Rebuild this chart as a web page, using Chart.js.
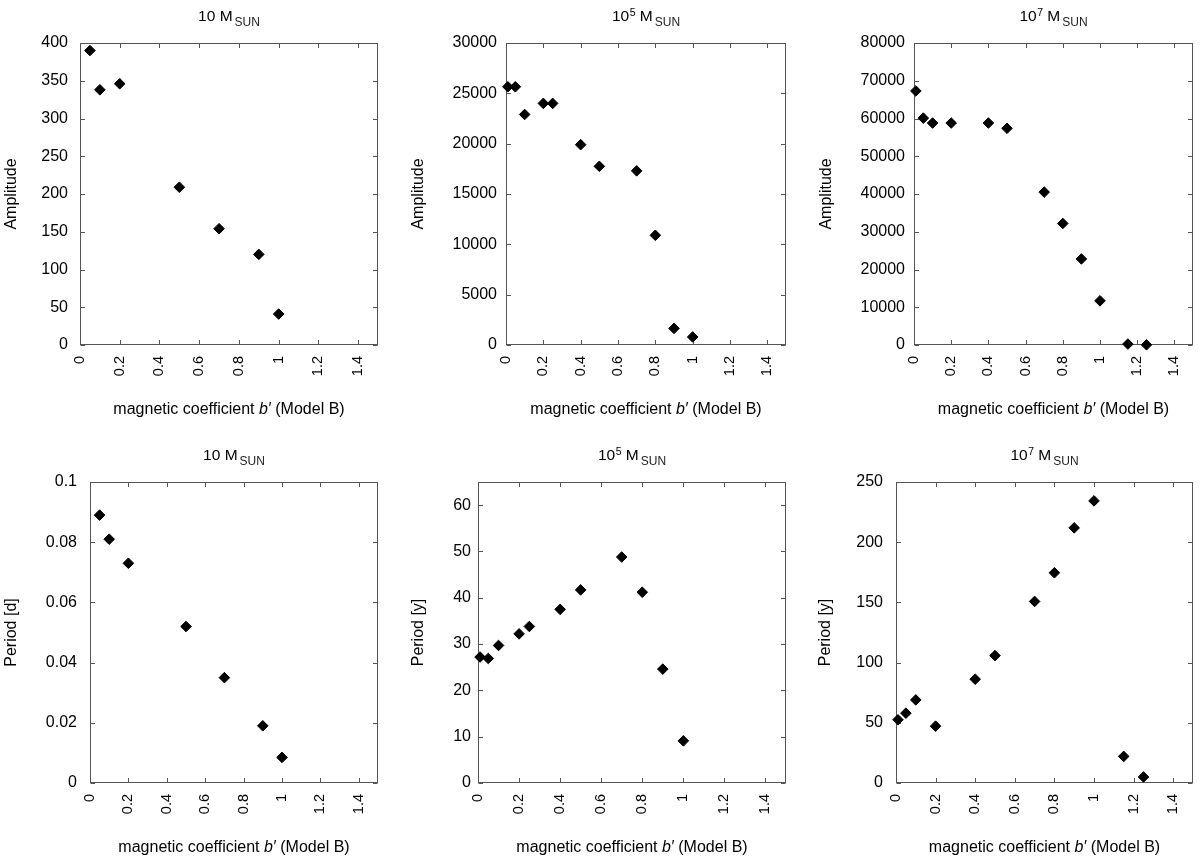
<!DOCTYPE html>
<html><head><meta charset="utf-8">
<script src="https://cdn.jsdelivr.net/npm/chart.js@4.4.1/dist/chart.umd.min.js"></script>
<style>
html,body{margin:0;padding:0;background:#fff;width:1200px;height:863px;overflow:hidden;position:relative}
canvas{position:absolute}
</style></head><body>
<canvas id="c0"></canvas><canvas id="c1"></canvas><canvas id="c2"></canvas>
<canvas id="c3"></canvas><canvas id="c4"></canvas><canvas id="c5"></canvas>
<script>
// ---- data ----
const xTicks = [0, 0.2, 0.4, 0.6, 0.8, 1, 1.2, 1.4];

const b10 = [0.05, 0.1, 0.2, 0.5, 0.7, 0.9, 1.0];
const amp10 = [390, 338, 346, 209, 154, 120, 41];
const per10 = [0.089, 0.081, 0.073, 0.052, 0.035, 0.019, 0.0085];

const b1e5 = [0.01, 0.05, 0.1, 0.2, 0.25, 0.4, 0.5, 0.7, 0.8, 0.9, 1.0];
const amp1e5 = [25650, 25650, 22900, 24000, 24000, 19900, 17750, 17300, 10900, 1650, 800];
const per1e5 = [27.2, 26.9, 29.7, 32.2, 33.8, 37.5, 41.7, 48.8, 41.2, 24.6, 9.1];

const b1e7 = [0.01, 0.05, 0.1, 0.2, 0.4, 0.5, 0.7, 0.8, 0.9, 1.0, 1.15, 1.25];
const amp1e7 = [67300, 60100, 58800, 58800, 58800, 57400, 40500, 32200, 22800, 11700, 250, 50];
const per1e7 = [52.5, 58, 69, 47.2, 86.2, 105.8, 150.8, 174.6, 211.9, 234.3, 22.1, 5];

const ampTicks10 = [0, 50, 100, 150, 200, 250, 300, 350, 400];
const ampTicks1e5 = [0, 5000, 10000, 15000, 20000, 25000, 30000];
const ampTicks1e7 = [0, 10000, 20000, 30000, 40000, 50000, 60000, 70000, 80000];
const perTicks10 = [0, 0.02, 0.04, 0.06, 0.08, 0.1];
const perTicks1e5 = [0, 10, 20, 30, 40, 50, 60];
const perTicks1e7 = [0, 50, 100, 150, 200, 250];

// ---- layout ----
const panels = [
  {id:'c0', box:[0,0,400,431],   area:[80,43,378,345],   xs:b10,  ys:amp10,  yMax:400,   yTicks:ampTicks10,  exp:'',  yTitle:'Amplitude',  yTitleX:12,  yPad:12},
  {id:'c1', box:[400,0,400,431], area:[506,43,786,345],  xs:b1e5, ys:amp1e5, yMax:30000, yTicks:ampTicks1e5, exp:'5', yTitle:'Amplitude',  yTitleX:419, yPad:9},
  {id:'c2', box:[800,0,430,431], area:[914,43,1193,345], xs:b1e7, ys:amp1e7, yMax:80000, yTicks:ampTicks1e7, exp:'7', yTitle:'Amplitude',  yTitleX:827, yPad:9},
  {id:'c3', box:[0,431,400,432],   area:[90,482,378,783],   xs:b10,  ys:per10,  yMax:0.1, yTicks:perTicks10,  exp:'',  yTitle:'Period [d]', yTitleX:12,  yPad:13},
  {id:'c4', box:[400,431,400,432], area:[478,482,786,783],  xs:b1e5, ys:per1e5, yMax:65,  yTicks:perTicks1e5, exp:'5', yTitle:'Period [y]', yTitleX:419, yPad:7},
  {id:'c5', box:[800,431,430,432], area:[896,482,1193,783], xs:b1e7, ys:per1e7, yMax:250, yTicks:perTicks1e7, exp:'7', yTitle:'Period [y]', yTitleX:826, yPad:13}
];

const FONT = "'Liberation Sans', Arial, Helvetica, sans-serif";
const FRAME = '#555';
const TICKLEN = 4.5;

const decor = {
  id: 'decor',
  beforeDatasetsDraw(chart, args, o) {
    const {ctx, chartArea: a, scales: {x, y}} = chart;
    ctx.save();
    ctx.strokeStyle = FRAME;
    ctx.lineWidth = 1;
    const l = Math.round(a.left) + 0.5, r = Math.round(a.right) - 0.5;
    const t = Math.round(a.top) + 0.5, b = Math.round(a.bottom) - 0.5;
    ctx.strokeRect(l, t, r - l, b - t);
    ctx.beginPath();
    x.ticks.forEach(tk => {
      const px = Math.round(x.getPixelForValue(tk.value)) + 0.5;
      ctx.moveTo(px, b); ctx.lineTo(px, b - TICKLEN);
      ctx.moveTo(px, t); ctx.lineTo(px, t + TICKLEN);
    });
    y.ticks.forEach(tk => {
      const py = Math.round(y.getPixelForValue(tk.value)) + 0.5;
      ctx.moveTo(l, py); ctx.lineTo(l + TICKLEN, py);
      ctx.moveTo(r, py); ctx.lineTo(r - TICKLEN, py);
    });
    ctx.stroke();
    ctx.restore();
  },
  afterDraw(chart, args, o) {
    const {ctx, chartArea: a} = chart;
    const cx = (a.left + a.right) / 2;
    ctx.save();
    ctx.fillStyle = '#000';
    ctx.textBaseline = 'alphabetic';
    ctx.textAlign = 'left';
    // title: 10^exp M_SUN
    const parts = [{t:'10', s:15.5, dy:0, gap:0}];
    if (o.exp) parts.push({t:o.exp, s:10.5, dy:-5.5, gap:0.5});
    parts.push({t:' M', s:15.5, dy:0, gap:0});
    parts.push({t:'SUN', s:12, dy:5, gap:2});
    let total = 0;
    parts.forEach(p => { ctx.font = p.s + 'px ' + FONT; p.w = ctx.measureText(p.t).width; total += p.w + p.gap; });
    let xx = cx - total / 2;
    const base = a.top - 22;
    parts.forEach(p => {
      xx += p.gap;
      ctx.font = p.s + 'px ' + FONT;
      ctx.fillStyle = p.t === 'SUN' ? '#222' : '#000';
      ctx.fillText(p.t, xx, base + p.dy);
      xx += p.w;
    });
    ctx.fillStyle = '#000';
    // x axis title
    const xp = [
      {t:'magnetic coefficient ', f:'16px ' + FONT},
      {t:'b\u2032', f:'italic 16px ' + FONT},
      {t:' (Model B)', f:'16px ' + FONT}
    ];
    let tw = 0;
    xp.forEach(p => { ctx.font = p.f; p.w = ctx.measureText(p.t).width; tw += p.w; });
    let x0 = cx - tw / 2;
    const xb = a.bottom + 69;
    xp.forEach(p => { ctx.font = p.f; ctx.fillText(p.t, x0, xb); x0 += p.w; });
    // y axis title
    ctx.translate(o.yTitleX, (a.top + a.bottom) / 2);
    ctx.rotate(-Math.PI / 2);
    ctx.font = '16px ' + FONT;
    ctx.textAlign = 'center';
    ctx.textBaseline = 'middle';
    ctx.fillText(o.yTitle, 0, 0);
    ctx.restore();
  }
};

Chart.defaults.font.family = FONT;
Chart.defaults.color = '#000';

panels.forEach(p => {
  const [bx, by, bw, bh] = p.box;
  const [L, T, R, B] = p.area;
  const cv = document.getElementById(p.id);
  cv.width = bw; cv.height = bh;
  cv.style.left = bx + 'px'; cv.style.top = by + 'px';
  cv.style.width = bw + 'px'; cv.style.height = bh + 'px';
  const xAxisH = 60;
  new Chart(cv, {
    type: 'scatter',
    data: {
      datasets: [{
        data: p.xs.map((v, i) => ({x: v, y: p.ys[i]})),
        pointStyle: 'rectRot',
        pointRadius: 5.3,
        pointHoverRadius: 5.3,
        backgroundColor: '#000',
        borderColor: '#000',
        borderWidth: 1,
        clip: false
      }]
    },
    options: {
      responsive: false,
      animation: false,
      devicePixelRatio: 1,
      layout: {padding: {left: 0, top: T - by, right: bx + bw - R, bottom: by + bh - B - xAxisH}},
      plugins: {
        legend: {display: false},
        tooltip: {enabled: false},
        decor: {exp: p.exp, yTitle: p.yTitle, yTitleX: p.yTitleX - bx}
      },
      scales: {
        x: {
          type: 'linear', min: 0, max: 1.5,
          grid: {display: false, drawTicks: false},
          border: {display: false},
          afterBuildTicks: s => { s.ticks = xTicks.map(v => ({value: v})); },
          afterFit: s => { s.height = xAxisH; },
          ticks: {
            autoSkip: false, minRotation: 90, maxRotation: 90, padding: 11,
            font: {size: 14.5}, color: '#000',
            callback: v => String(v)
          }
        },
        y: {
          type: 'linear', min: 0, max: p.yMax,
          grid: {display: false, drawTicks: false},
          border: {display: false},
          afterBuildTicks: s => { s.ticks = p.yTicks.map(v => ({value: v})); },
          afterFit: s => { s.width = L - bx; },
          ticks: {
            autoSkip: false, padding: p.yPad,
            font: {size: 16}, color: '#000',
            callback: v => String(v)
          }
        }
      }
    },
    plugins: [decor]
  });
});
</script>
</body></html>
